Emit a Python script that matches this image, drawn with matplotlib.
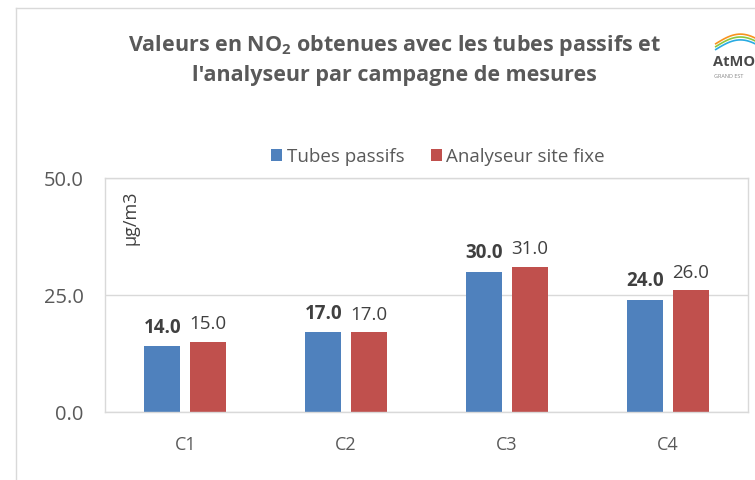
import numpy as np
import matplotlib.pyplot as plt
from matplotlib.lines import Line2D

campagnes = ['C1', 'C2', 'C3', 'C4']
tubes = [14.0, 17.0, 30.0, 24.0]
analyseur = [15.0, 17.0, 31.0, 26.0]
yticks = [0, 25, 50]

bleu = '#4F81BD'
rouge = '#C0504D'
gris = '#595959'

plt.rcParams['font.family'] = ['Open Sans', 'DejaVu Sans']

fig = plt.figure(figsize=(7.55, 4.81), dpi=100)
ax = fig.add_axes([0.139, 0.1414, 0.852, 0.4866])

x = np.arange(len(campagnes))
w = 0.224
off = 0.143
b1 = ax.bar(x - off, tubes, w, color=bleu, label='Tubes passifs')
b2 = ax.bar(x + off, analyseur, w, color=rouge, label='Analyseur site fixe')

for r, v in zip(b1, tubes):
    ax.annotate(f'{v:.1f}', (r.get_x() + r.get_width() / 2, v), xytext=(0, 7),
                textcoords='offset points', ha='center', va='bottom',
                fontsize=13.5, fontweight='bold', color='#404040')
for r, v in zip(b2, analyseur):
    ax.annotate(f'{v:.1f}', (r.get_x() + r.get_width() / 2, v), xytext=(0, 7),
                textcoords='offset points', ha='center', va='bottom',
                fontsize=13.5, color='#404040')

ax.set_xlim(-0.5, 3.5)
ax.set_ylim(0, 50)
ax.set_yticks(yticks)
ax.set_yticklabels([f'{t:.1f}' for t in yticks], fontsize=14.5, color=gris)
ax.set_xticks(x)
ax.set_xticklabels(campagnes, fontsize=13, color=gris)
ax.tick_params(length=0)
ax.tick_params(axis='y', pad=15.5)
ax.tick_params(axis='x', pad=16.5)
ax.yaxis.grid(True, color='#D9D9D9', lw=1)
ax.set_axisbelow(True)
for s in ax.spines.values():
    s.set_color('#D9D9D9')
    s.set_linewidth(1)

ax.text(0.04, 0.95, 'µg/m3', transform=ax.transAxes, rotation=90,
        ha='center', va='top', fontsize=13, color='#404040')

fig.text(0.523, 0.905, "Valeurs en NO$_\\mathregular{2}$ obtenues avec les tubes passifs et",
         ha='center', va='center', fontsize=15.5, fontweight='bold', color=gris)
fig.text(0.523, 0.843, "l'analyseur par campagne de mesures",
         ha='center', va='center', fontsize=15.5, fontweight='bold', color=gris)

fig.legend(loc='center', bbox_to_anchor=(0.58, 0.673), ncol=2, frameon=False,
           fontsize=13.5, handlelength=0.6, handleheight=0.6, handletextpad=0.25,
           columnspacing=1.4, labelcolor=gris)

# cadre du graphique
fig.add_artist(Line2D([16 / 755, 1], [1 - 9 / 481] * 2, color='#D9D9D9', lw=1))
fig.add_artist(Line2D([16 / 755] * 2, [0, 1 - 9 / 481], color='#D9D9D9', lw=1))

# logo (approximation)
t = np.linspace(0, 1, 20)
for c, dy in [('#29ABE2', 0.0), ('#8CC63F', 0.006), ('#F7931E', 0.012)]:
    fig.add_artist(Line2D(0.948 + 0.052 * t, 0.895 + dy + 0.02 * np.sin(t * 2.5),
                          color=c, lw=1.2))
fig.text(0.944, 0.872, 'AtMO', fontsize=10.5, fontweight='bold', color='#4a4a4a',
         ha='left', va='center')
fig.text(0.946, 0.84, 'GRAND EST', fontsize=4, color='#888888', ha='left', va='center')

fig.savefig('out.png', dpi=100)
